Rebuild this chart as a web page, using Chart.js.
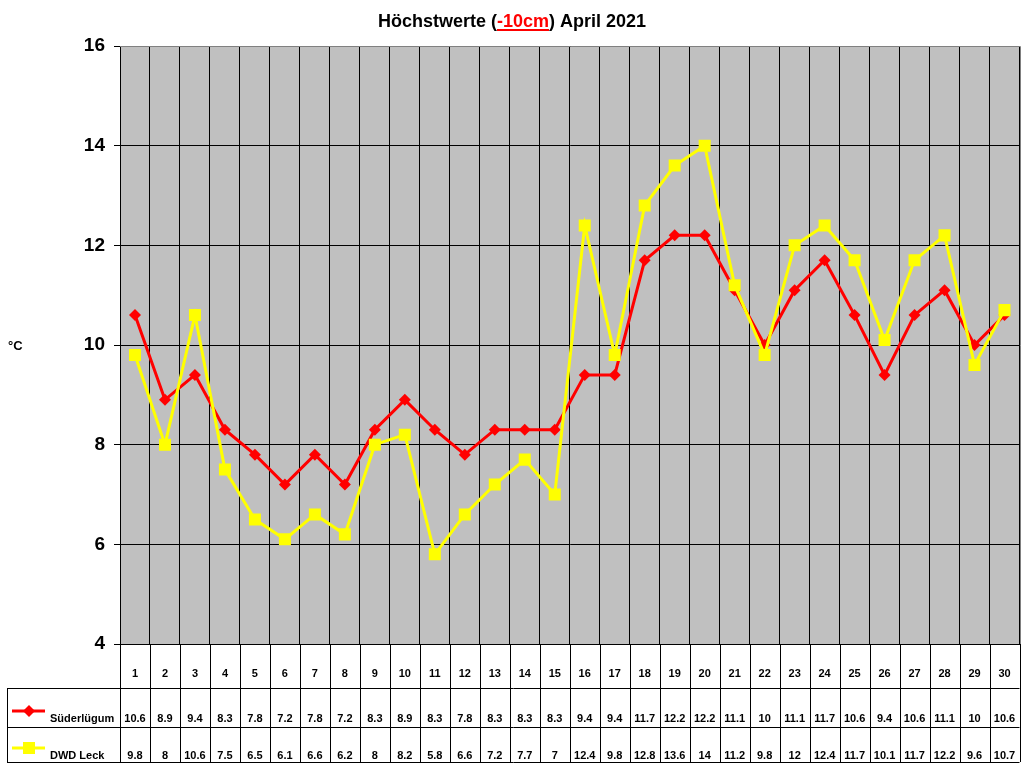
<!DOCTYPE html>
<html>
<head>
<meta charset="utf-8">
<script src="https://cdn.jsdelivr.net/npm/chart.js@4"></script>
<style>
  html, body { margin: 0; padding: 0; background: #fff; overflow: hidden; }
  #wrap { width: 1024px; height: 768px; position: relative; overflow: hidden; }
</style>
</head>
<body>
<!-- canvas a bit wider than the window: Chart.js keeps room for the last marker, so the plot ends near x=1019 -->
<div id="wrap"><canvas id="plot" width="1028" height="768"></canvas></div>
<script>
var days = ['1','2','3','4','5','6','7','8','9','10','11','12','13','14','15','16','17','18','19','20','21','22','23','24','25','26','27','28','29','30'];
var suederluegum = [10.6, 8.9, 9.4, 8.3, 7.8, 7.2, 7.8, 7.2, 8.3, 8.9, 8.3, 7.8, 8.3, 8.3, 8.3, 9.4, 9.4, 11.7, 12.2, 12.2, 11.1, 10, 11.1, 11.7, 10.6, 9.4, 10.6, 11.1, 10, 10.6];
var dwdLeck = [9.8, 8, 10.6, 7.5, 6.5, 6.1, 6.6, 6.2, 8, 8.2, 5.8, 6.6, 7.2, 7.7, 7, 12.4, 9.8, 12.8, 13.6, 14, 11.2, 9.8, 12, 12.4, 11.7, 10.1, 11.7, 12.2, 9.6, 10.7];
var seriesNames = ['Süderlügum', 'DWD Leck'];

var FONT = 'Arial, "Liberation Sans", sans-serif';

// gray plot background + title + °C label + table
var backdrop = {
  id: 'backdrop',
  beforeDraw: function(chart) {
    var c = chart.ctx, a = chart.chartArea;
    c.save();
    c.fillStyle = '#c0c0c0';
    c.fillRect(a.left, a.top, a.right - a.left, a.bottom - a.top);
    c.restore();
  },
  afterDraw: function(chart) {
    var c = chart.ctx;
    var a = chart.chartArea;
    c.save();
    // gray top and right edge of the plot
    c.strokeStyle = '#808080';
    c.lineWidth = 1;
    c.beginPath();
    c.moveTo(a.left, Math.round(a.top) + 0.5); c.lineTo(Math.round(a.right) + 0.5, Math.round(a.top) + 0.5);
    c.lineTo(Math.round(a.right) + 0.5, a.bottom);
    c.stroke();

    // title with red underlined part
    c.font = 'bold 18px ' + FONT;
    c.textBaseline = 'alphabetic';
    var p1 = 'Höchstwerte (', p2 = '-10cm', p3 = ') April 2021';
    var w1 = c.measureText(p1).width, w2 = c.measureText(p2).width, w3 = c.measureText(p3).width;
    var x = 512 - (w1 + w2 + w3) / 2, y = 27;
    c.fillStyle = '#000';
    c.fillText(p1, x, y);
    c.fillStyle = '#ff0000';
    c.fillText(p2, x + w1, y);
    c.fillRect(x + w1, y + 2, w2, 2);
    c.fillStyle = '#000';
    c.fillText(p3, x + w1 + w2, y);

    c.font = 'bold 13px ' + FONT;
    c.fillText('°C', 8, 350);

    // data table under the plot
    var xs = chart.scales.x;
    var colW = (a.right - a.left) / days.length;
    var top = a.bottom, r1 = 688, r2 = 727, bot = 762;
    c.strokeStyle = '#000';
    c.lineWidth = 1;
    c.beginPath();
    for (var i = 0; i <= days.length; i++) {
      var gx = Math.round(a.left + i * colW) + 0.5;
      c.moveTo(gx, top); c.lineTo(gx, bot);
    }
    c.moveTo(7.5, r1 + 0.5); c.lineTo(a.right, r1 + 0.5);
    c.moveTo(7.5, r2 + 0.5); c.lineTo(a.right, r2 + 0.5);
    c.moveTo(7.5, bot + 0.5); c.lineTo(a.right, bot + 0.5);
    c.moveTo(7.5, r1); c.lineTo(7.5, bot + 1);
    c.stroke();

    c.textAlign = 'center';
    c.fillStyle = '#000';
    c.font = 'bold 11px ' + FONT;
    for (var j = 0; j < days.length; j++) {
      var cx = xs.getPixelForValue(j);
      c.fillText(days[j], cx, 677);
      c.fillText(String(suederluegum[j]), cx, 722);
      c.fillText(String(dwdLeck[j]), cx, 759);
    }

    // legend keys
    c.textAlign = 'left';
    c.fillText(seriesNames[0], 50, 722);
    c.fillText(seriesNames[1], 50, 759);
    c.lineWidth = 3;
    c.strokeStyle = '#ff0000';
    c.beginPath(); c.moveTo(12, 711); c.lineTo(45, 711); c.stroke();
    c.fillStyle = '#ff0000';
    c.beginPath(); c.moveTo(29, 705); c.lineTo(35, 711); c.lineTo(29, 717); c.lineTo(23, 711); c.closePath(); c.fill();
    c.strokeStyle = '#ffff00';
    c.beginPath(); c.moveTo(12, 748); c.lineTo(45, 748); c.stroke();
    c.fillStyle = '#ffff00';
    c.fillRect(23, 742, 12, 12);
    c.restore();
  }
};

new Chart(document.getElementById('plot'), {
  type: 'line',
  data: {
    labels: days,
    datasets: [
      {
        label: seriesNames[0], data: suederluegum, order: 1,
        borderColor: '#ff0000', backgroundColor: '#ff0000', borderWidth: 3,
        pointStyle: 'rectRot', pointRadius: 6, pointBorderWidth: 0, tension: 0
      },
      {
        label: seriesNames[1], data: dwdLeck, order: 0,
        borderColor: '#ffff00', backgroundColor: '#ffff00', borderWidth: 3,
        pointStyle: 'rect', pointRadius: 8.5, pointBorderWidth: 0, tension: 0
      }
    ]
  },
  options: {
    responsive: false,
    animation: false,
    events: [],
    layout: { padding: { left: 0, top: 46, right: 0, bottom: 124 } },
    plugins: { legend: { display: false }, tooltip: { enabled: false }, title: { display: false } },
    scales: {
      x: {
        type: 'category', offset: true,
        ticks: { display: false },
        grid: { offset: true, color: '#000', lineWidth: 1, drawTicks: false },
        border: { display: true, color: '#000' },
        afterFit: function(s) { s.height = 0; }
      },
      y: {
        min: 4, max: 16,
        ticks: { stepSize: 2, color: '#000', padding: 9, font: { family: FONT, size: 19, weight: 'bold' } },
        grid: { color: '#000', lineWidth: 1, tickLength: 6 },
        border: { color: '#000' },
        afterFit: function(s) { s.width = 120; }
      }
    }
  },
  plugins: [backdrop]
});
</script>
</body>
</html>
